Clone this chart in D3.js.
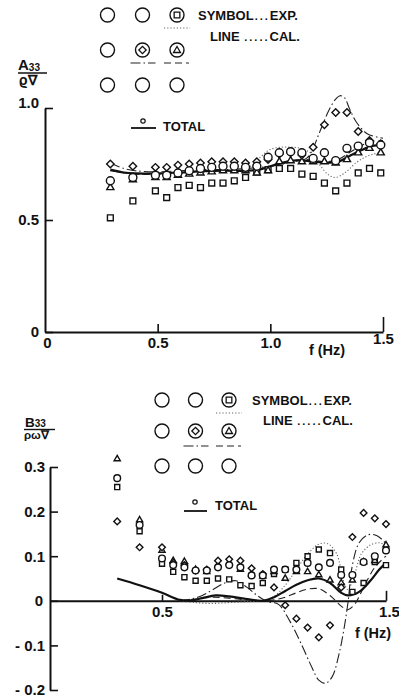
<!DOCTYPE html>
<html>
<head>
<meta charset="utf-8">
<script src="https://cdn.jsdelivr.net/npm/d3@7"></script>
<style>
  html, body { margin: 0; padding: 0; background: #fff; }
  svg { display: block; }
  text { font-family: "Liberation Sans", Arial, Helvetica, sans-serif; fill: #111; font-weight: bold; }
</style>
</head>
<body>
<svg id="chart" width="399" height="698"></svg>
<script>
// ---------- Upper panel: added mass A33 / (rho V) ----------
const freqA     = [0.29,0.39,0.49,0.54,0.59,0.64,0.69,0.74,0.79,0.84,0.89,0.94,0.99,1.04,1.09,1.14,1.19,1.24,1.29,1.34,1.39,1.44,1.49];
const aSquare   = [0.51,0.585,0.63,0.60,0.645,0.655,0.645,0.665,0.665,0.675,0.69,0.715,0.725,0.73,0.73,0.705,0.695,0.665,0.63,0.665,0.71,0.73,0.71];
const aDiamond  = [0.75,0.74,0.735,0.735,0.745,0.75,0.755,0.76,0.76,0.76,0.755,0.76,0.77,0.795,0.80,0.79,0.825,0.925,0.98,0.98,0.895,0.855,0.84];
const aTriangle = [0.645,0.68,0.69,0.69,0.70,0.705,0.71,0.715,0.72,0.72,0.72,0.71,0.72,0.76,0.765,0.76,0.76,0.76,0.755,0.77,0.80,0.82,0.80];
const aTotal    = [0.675,0.69,0.70,0.70,0.71,0.72,0.73,0.735,0.74,0.74,0.735,0.74,0.78,0.80,0.805,0.80,0.775,0.80,0.765,0.82,0.83,0.845,0.835];

// calculated curves (upper panel)
const aCalcSquareF   = [0.29,0.35,0.4,0.5,0.6,0.7,0.8,0.88,0.92,0.96,1.0,1.05,1.1,1.15,1.19,1.22,1.26,1.29,1.33,1.38,1.42,1.46,1.5];
const aCalcSquare    = [0.72,0.71,0.705,0.705,0.71,0.715,0.72,0.725,0.745,0.785,0.815,0.825,0.825,0.815,0.79,0.745,0.70,0.69,0.71,0.755,0.78,0.795,0.80];
const aCalcDiamondF  = [0.29,0.35,0.4,0.5,0.6,0.7,0.8,0.9,1.0,1.05,1.1,1.16,1.19,1.21,1.23,1.26,1.29,1.31,1.33,1.35,1.38,1.43,1.5];
const aCalcDiamond   = [0.755,0.73,0.72,0.715,0.72,0.725,0.725,0.73,0.74,0.75,0.76,0.775,0.82,0.87,0.92,0.99,1.04,1.055,1.045,1.0,0.94,0.885,0.865];
const aCalcTriangleF = [0.29,0.4,0.5,0.6,0.7,0.8,0.9,1.0,1.05,1.1,1.15,1.2,1.25,1.3,1.35,1.4,1.45,1.5];
const aCalcTriangle  = [0.72,0.705,0.705,0.71,0.715,0.72,0.72,0.735,0.755,0.765,0.77,0.765,0.76,0.77,0.80,0.83,0.85,0.855];
const aCalcTotalF    = [0.29,0.35,0.4,0.5,0.6,0.7,0.8,0.9,0.95,1.0,1.05,1.1,1.15,1.2,1.25,1.3,1.35,1.4,1.45,1.5];
const aCalcTotal     = [0.725,0.712,0.708,0.708,0.712,0.718,0.72,0.72,0.725,0.74,0.755,0.765,0.765,0.76,0.755,0.76,0.785,0.81,0.83,0.835];

const aYTicks = [0, 0.5, 1.0];
const aXTicks = [0, 0.5, 1.0, 1.5];

// ---------- Lower panel: damping B33 / (rho omega V) ----------
const freqB     = [0.30,0.40,0.50,0.55,0.60,0.65,0.70,0.75,0.80,0.85,0.90,0.95,1.00,1.05,1.10,1.15,1.20,1.25,1.30,1.35,1.40,1.45,1.50];
const bSquare   = [0.255,0.156,0.083,0.065,0.053,0.045,0.045,0.05,0.048,0.035,0.033,0.04,0.06,0.07,0.085,0.10,0.115,0.107,0.07,0.02,0.04,0.087,0.08];
const bDiamond  = [0.178,0.12,0.12,0.085,0.08,0.068,0.07,0.09,0.093,0.09,0.073,0.06,0.03,-0.01,-0.04,-0.06,-0.082,-0.055,0.03,0.143,0.197,0.185,0.172];
const bTriangle = [0.318,0.181,0.113,0.09,0.088,0.07,0.065,0.08,0.085,0.07,0.06,0.055,0.065,0.05,0.065,0.065,0.058,0.046,0.04,0.046,0.087,0.09,0.125];
const bTotal    = [0.275,0.17,0.095,0.08,0.075,0.068,0.068,0.075,0.08,0.075,0.057,0.057,0.07,0.07,0.07,0.085,0.075,0.085,0.058,0.058,0.087,0.10,0.113];

// calculated curves (lower panel)
const bCalcSquareF   = [0.58,0.65,0.72,0.8,0.88,0.95,1.0,1.05,1.1,1.15,1.2,1.24,1.28,1.31,1.33,1.36,1.39,1.43,1.47,1.5];
const bCalcSquare    = [0.0,-0.004,-0.006,-0.004,-0.002,0.0,0.01,0.035,0.07,0.105,0.127,0.128,0.105,0.045,0.025,0.06,0.105,0.125,0.13,0.125];
const bCalcDiamondF  = [0.58,0.63,0.68,0.73,0.78,0.83,0.88,0.93,0.97,1.02,1.07,1.12,1.17,1.2,1.23,1.26,1.29,1.31,1.33,1.35,1.38,1.42,1.46,1.5];
const bCalcDiamond   = [0.0,0.004,0.012,0.026,0.04,0.045,0.03,0.01,-0.002,-0.008,-0.045,-0.095,-0.15,-0.178,-0.185,-0.17,-0.12,-0.07,-0.005,0.08,0.13,0.148,0.146,0.128];
const bCalcTriangleF = [0.58,0.65,0.72,0.8,0.88,0.95,1.0,1.05,1.1,1.15,1.2,1.25,1.3,1.33,1.36,1.4,1.45,1.5];
const bCalcTriangle  = [0.0,0.004,0.008,0.006,0.002,0.0,0.002,0.008,0.018,0.026,0.027,0.012,-0.012,-0.02,-0.008,0.03,0.075,0.1];
const bCalcTotalF    = [0.30,0.4,0.5,0.58,0.63,0.68,0.74,0.8,0.88,0.95,1.0,1.05,1.1,1.15,1.2,1.25,1.3,1.33,1.38,1.43,1.47,1.5];
const bCalcTotal     = [0.05,0.035,0.018,0.002,0.001,0.006,0.012,0.01,0.004,0.0,0.008,0.022,0.036,0.046,0.05,0.04,0.018,0.012,0.02,0.045,0.07,0.085];

const bYTicks = [-0.2, -0.1, 0, 0.1, 0.2, 0.3];
const bXTicks = [0.5, 1.5];

// ---------- drawing ----------
const svg = d3.select("#chart");

const lineStyles = {
  square:   { dash: "1.2,2",       width: 1.1, color: "#666" },
  diamond:  { dash: "10,3,1.5,3",  width: 1.1, color: "#222" },
  triangle: { dash: "7,4",         width: 1.1, color: "#222" },
  total:    { dash: null,          width: 2.2, color: "#111" }
};

function symbolPath(kind, scale) {
  if (kind === "circle")   return d3.symbol(d3.symbolCircle,   50 * scale)();
  if (kind === "square")   return d3.symbol(d3.symbolSquare,   34 * scale)();
  if (kind === "diamond")  return d3.symbol(d3.symbolSquare,   28 * scale)();
  if (kind === "triangle") return d3.symbol(d3.symbolTriangle, 22 * scale)();
}

function drawMarkers(g, kind, freq, vals, x, y, scale) {
  g.append("g").selectAll("path").data(freq.map((f, i) => [f, vals[i]]))
    .join("path")
    .attr("d", symbolPath(kind, scale))
    .attr("transform", d => `translate(${x(d[0])},${y(d[1])})` + (kind === "diamond" ? " rotate(45)" : ""))
    .attr("fill", "#fff")
    .attr("stroke", "#111")
    .attr("stroke-width", 1.4);
}

function drawCurve(g, style, freq, vals, x, y) {
  const line = d3.line().x(d => x(d[0])).y(d => y(d[1])).curve(d3.curveCatmullRom.alpha(0.5));
  const st = lineStyles[style];
  g.append("path")
    .attr("d", line(freq.map((f, i) => [f, vals[i]])))
    .attr("fill", "none")
    .attr("stroke", st.color)
    .attr("stroke-width", st.width)
    .attr("stroke-dasharray", st.dash)
    .attr("stroke-linejoin", "round");
}

function sampleLine(g, style, x1, x2, yy) {
  const st = lineStyles[style];
  g.append("line").attr("x1", x1).attr("x2", x2).attr("y1", yy).attr("y2", yy)
    .attr("stroke", st.color).attr("stroke-width", style === "total" ? 1.8 : st.width)
    .attr("stroke-dasharray", st.dash);
}

function legend(g, cols, rows, r, lineY2) {
  rows.forEach(cy => cols.forEach(cx => {
    g.append("circle").attr("cx", cx).attr("cy", cy).attr("r", r)
      .attr("fill", "none").attr("stroke", "#111").attr("stroke-width", 1.4);
  }));
  const inner = [["square", cols[2], rows[0]], ["diamond", cols[1], rows[1]], ["triangle", cols[2], rows[1]]];
  inner.forEach(([k, cx, cy]) => {
    g.append("path").attr("d", symbolPath(k, 0.95))
      .attr("transform", `translate(${cx},${cy + (k === "triangle" ? 0.5 : 0)})` + (k === "diamond" ? " rotate(45)" : ""))
      .attr("fill", "none").attr("stroke", "#111").attr("stroke-width", 1.3);
  });
  sampleLine(g, "square", cols[2] - 13, cols[2] + 13, rows[0] + 13);
  sampleLine(g, "diamond", cols[1] - 12, cols[1] + 13, lineY2);
  sampleLine(g, "triangle", cols[2] - 13, cols[2] + 12, lineY2);
}

// "SYMBOL ... EXP." / "LINE ..... CAL." key text with widely spaced leader dots
function keyText(g, x, yy, head, dots, tail) {
  const t = g.append("text").attr("x", x).attr("y", yy).attr("font-size", 13);
  t.append("tspan").text(head);
  t.append("tspan").attr("dx", 1).attr("letter-spacing", 2).attr("font-size", 11).text(dots);
  t.append("tspan").text(tail);
}

function styleAxis(sel) {
  sel.select(".domain").attr("stroke", "#111").attr("stroke-width", 2);
  sel.selectAll(".tick line").attr("stroke", "#111").attr("stroke-width", 1.6);
  sel.selectAll(".tick text").attr("font-size", 15).attr("fill", "#111")
    .attr("font-family", "Liberation Sans, Arial, sans-serif").attr("font-weight", "bold");
}

// ===== Upper panel =====
{
  const x = d3.scaleLinear().domain([0, 1.5]).range([45, 383]);
  const y = d3.scaleLinear().domain([0, 1]).range([332, 108]);
  const g = svg.append("g");

  const yAxis = g.append("g").attr("transform", "translate(45,0)")
    .call(d3.axisLeft(y).tickValues(aYTicks).tickSize(-8).tickSizeOuter(0).tickPadding(6)
      .tickFormat(d => d === 0 ? "0" : d3.format(".1f")(d)));
  styleAxis(yAxis);
  yAxis.selectAll(".tick text").filter(d => d === 1).attr("dy", "-0.05em");

  const xAxis = g.append("g").attr("transform", "translate(0,332)")
    .call(d3.axisBottom(x).tickValues(aXTicks).tickSize(-8).tickSizeOuter(0).tickPadding(5)
      .tickFormat(d => d === 0 ? "0" : d3.format(".1f")(d)));
  styleAxis(xAxis);
  xAxis.selectAll(".tick line").filter(d => d === 1.5).attr("y2", -15);
  xAxis.selectAll(".tick line").filter(d => d === 0).remove();
  xAxis.selectAll(".tick text").filter(d => d === 0).attr("dx", 2);
  xAxis.selectAll(".tick text").filter(d => d === 1.5).attr("y", 1);

  g.append("text").attr("x", 327).attr("y", 355).attr("font-size", 14.5).attr("text-anchor", "middle").text("f (Hz)");

  drawCurve(g, "square", aCalcSquareF, aCalcSquare, x, y);
  drawCurve(g, "triangle", aCalcTriangleF, aCalcTriangle, x, y);
  drawCurve(g, "diamond", aCalcDiamondF, aCalcDiamond, x, y);
  drawCurve(g, "total", aCalcTotalF, aCalcTotal, x, y);

  drawMarkers(g, "square", freqA, aSquare, x, y, 1);
  drawMarkers(g, "triangle", freqA, aTriangle, x, y, 1);
  drawMarkers(g, "diamond", freqA, aDiamond, x, y, 1);
  drawMarkers(g, "circle", freqA, aTotal, x, y, 1);

  // y label  A33 / rho V
  const lab = g.append("text").attr("x", 18).attr("y", 70).attr("font-size", 15);
  lab.append("tspan").text("A");
  lab.append("tspan").attr("font-size", 10).attr("dy", 1).text("33");
  g.append("line").attr("x1", 18).attr("x2", 47).attr("y1", 73).attr("y2", 73).attr("stroke", "#111").attr("stroke-width", 1.5);
  g.append("text").attr("x", 19).attr("y", 85).attr("font-size", 14).text("ϱ∇");

  // legend
  const lg = g.append("g");
  legend(lg, [107.5, 142.5, 177], [15, 50, 85], 7, 63);
  keyText(lg, 198, 20, "SYMBOL", "...", "EXP.");
  keyText(lg, 210, 41, "LINE ", ".....", "CAL.");
  lg.append("path").attr("d", symbolPath("circle", 0.3)).attr("transform", "translate(143,121)")
    .attr("fill", "none").attr("stroke", "#111").attr("stroke-width", 1.2);
  sampleLine(lg, "total", 131, 156, 128);
  lg.append("text").attr("x", 163).attr("y", 131).attr("font-size", 13).text("TOTAL");
}

// ===== Lower panel =====
{
  const x = d3.scaleLinear().domain([0, 1.5]).range([50, 386]);
  const y = d3.scaleLinear().domain([-0.2, 0.3]).range([690, 467]);
  const g = svg.append("g");

  const yAxis = g.append("g").attr("transform", "translate(50,0)")
    .call(d3.axisLeft(y).tickValues(bYTicks).tickSize(-8).tickSizeOuter(0).tickPadding(5)
      .tickFormat(d => d === 0 ? "0" : (d < 0 ? "- " + d3.format(".1f")(-d) : d3.format(".1f")(d))));
  styleAxis(yAxis);
  yAxis.selectAll(".tick text").filter(d => d === 0).attr("dx", -2);

  const xAxis = g.append("g").attr("transform", `translate(0,${y(0)})`)
    .call(d3.axisBottom(x).tickValues(bXTicks).tickSize(-6).tickSizeOuter(0).tickPadding(6)
      .tickFormat(d3.format(".1f")));
  styleAxis(xAxis);
  xAxis.selectAll(".tick line").filter(d => d === 1.5).attr("y2", -10);
  xAxis.selectAll(".tick text").filter(d => d === 1.5).attr("dx", 3);

  g.append("text").attr("x", 373).attr("y", 638).attr("font-size", 14.5).attr("text-anchor", "middle").text("f (Hz)");

  drawCurve(g, "square", bCalcSquareF, bCalcSquare, x, y);
  drawCurve(g, "triangle", bCalcTriangleF, bCalcTriangle, x, y);
  drawCurve(g, "diamond", bCalcDiamondF, bCalcDiamond, x, y);
  drawCurve(g, "total", bCalcTotalF, bCalcTotal, x, y);

  drawMarkers(g, "square", freqB, bSquare, x, y, 0.75);
  drawMarkers(g, "triangle", freqB, bTriangle, x, y, 0.75);
  drawMarkers(g, "diamond", freqB, bDiamond, x, y, 0.8);
  drawMarkers(g, "circle", freqB, bTotal, x, y, 0.7);

  // y label  B33 / rho omega V
  const lab = g.append("text").attr("x", 25).attr("y", 427).attr("font-size", 13.5);
  lab.append("tspan").text("B");
  lab.append("tspan").attr("font-size", 10).attr("dy", 0).text("33");
  g.append("line").attr("x1", 24).attr("x2", 55).attr("y1", 429.5).attr("y2", 429.5).attr("stroke", "#111").attr("stroke-width", 1.4);
  g.append("text").attr("x", 24).attr("y", 439).attr("font-size", 11.5).text("ρω∇");

  // legend
  const lg = g.append("g");
  legend(lg, [162, 195.5, 229], [400, 431, 466], 7, 446);
  keyText(lg, 252, 405, "SYMBOL", "...", "EXP.");
  keyText(lg, 263, 425, "LINE ", ".....", "CAL.");
  lg.append("path").attr("d", symbolPath("circle", 0.3)).attr("transform", "translate(195,502)")
    .attr("fill", "none").attr("stroke", "#111").attr("stroke-width", 1.2);
  sampleLine(lg, "total", 184, 207, 511);
  lg.append("text").attr("x", 215).attr("y", 510).attr("font-size", 13).text("TOTAL");
}
</script>
</body>
</html>
